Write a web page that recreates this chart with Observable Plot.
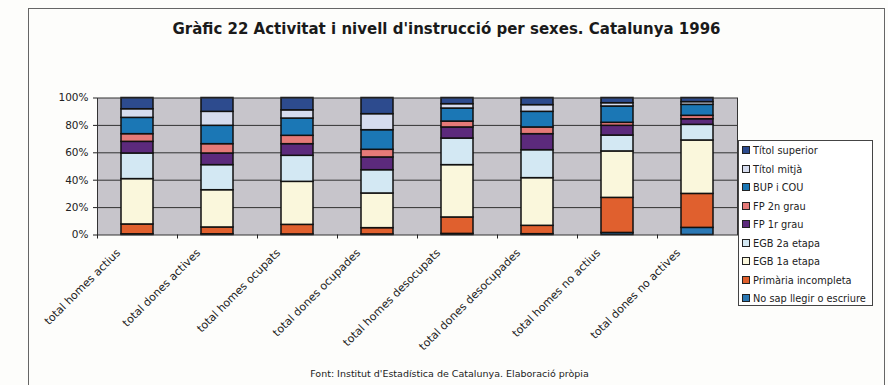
<!DOCTYPE html>
<html><head><meta charset="utf-8">
<script src="https://cdn.jsdelivr.net/npm/d3@7"></script>
<script src="https://cdn.jsdelivr.net/npm/@observablehq/plot@0.6"></script>
<style>
body{margin:0;background:#fff;}
#wrap{position:relative;width:888px;height:385px;background:#fdfdfb;font-family:"DejaVu Sans",sans-serif;overflow:hidden;}
#frame{position:absolute;left:28px;top:8px;width:857px;height:377px;border:1px solid #666;border-bottom:none;box-sizing:border-box;}
#title{position:absolute;left:18px;width:857px;top:20px;text-align:center;font-weight:bold;font-size:15px;color:#1a1a1a;}
#chart{position:absolute;left:28px;top:80px;}
#legend{position:absolute;left:738px;top:140px;width:135px;height:166px;border:1px solid #444;box-sizing:border-box;background:#fff;}
.item{position:absolute;left:3px;font-size:9.8px;color:#222;white-space:nowrap;line-height:12px;height:12px;}
.sw{display:inline-block;width:6px;height:6px;border:1px solid #222;margin-right:3px;vertical-align:0px;}
#caption{position:absolute;left:21px;width:857px;top:368px;text-align:center;font-size:9.5px;color:#222;}
</style>
</head><body>
<div id="wrap">
  <div id="frame"></div>
  <div id="title">Gràfic 22 Activitat i nivell d'instrucció per sexes. Catalunya 1996</div>
  <div id="chart"></div>
  <div id="legend"></div>
  <div id="caption">Font: Institut d'Estadística de Catalunya. Elaboració pròpia</div>
</div>
<script>
const categories = ["total homes actius","total dones actives","total homes ocupats","total dones ocupades","total homes desocupats","total dones desocupades","total homes no actius","total dones no actives"];
// series listed bottom to top of the stack
const series = ["No sap llegir o escriure","Primària incompleta","EGB 1a etapa","EGB 2a etapa","FP 1r grau","FP 2n grau","BUP i COU","Títol mitjà","Títol superior"];
const colors = ["#2b78b4","#e0602e","#faf7dc","#d3e8f3","#5c2a7c","#e57a78","#1b77b5","#d6dcee","#2d4b8e"];
const noSap      = [0.5, 0.5, 0.4, 0.4, 0.8, 0.6, 1.5, 5.2];
const primaria   = [7.2, 5.0, 7.0, 4.6, 12.0, 6.1, 25.6, 24.8];
const egb1       = [33.1, 27.2, 31.4, 25.3, 38.2, 34.8, 33.9, 39.0];
const egb2       = [18.7, 18.3, 19.0, 17.0, 19.4, 20.4, 11.6, 11.4];
const fp1        = [8.5, 8.5, 8.5, 9.3, 8.1, 11.7, 7.1, 4.1];
const fp2        = [5.6, 6.8, 6.1, 5.6, 4.3, 4.9, 2.2, 2.5];
const bup        = [11.9, 13.4, 12.6, 14.3, 9.5, 11.4, 11.9, 8.0];
const titolMitja = [6.3, 10.2, 6.0, 11.7, 3.2, 4.9, 2.4, 2.0];
const titolSup   = [8.2, 10.1, 9.0, 11.8, 4.5, 5.2, 3.8, 3.0];
const yTicks = [0, 20, 40, 60, 80, 100];

const valueArrays = [noSap, primaria, egb1, egb2, fp1, fp2, bup, titolMitja, titolSup];
const rows = [];
series.forEach((s, si) => categories.forEach((c, ci) => rows.push({cat: c, serie: s, value: valueArrays[si][ci]})));

const W = 712, H = 280, mL = 69, mR = 3, mT = 17.5, mB = 125.5;
const band = (W - mL - mR) / categories.length;

const chart = Plot.plot({
  width: W, height: H,
  marginLeft: mL, marginRight: mR, marginTop: mT, marginBottom: mB,
  style: {fontFamily: '"DejaVu Sans", sans-serif', fontSize: "10.5px", color: "#222", background: "transparent"},
  x: {domain: categories, paddingInner: 0.6, paddingOuter: 0.3, label: null},
  y: {domain: [0, 100], ticks: yTicks, label: null},
  color: {domain: series, range: colors},
  marks: [
    Plot.frame({fill: "#c7c5cb", stroke: "none"}),
    Plot.ruleY(yTicks.slice(1, -1), {stroke: "#333", strokeWidth: 1}),
    Plot.barY(rows, Plot.stackY({order: series}, {x: "cat", y: "value", fill: "serie", stroke: "#111", strokeWidth: 1.5})),
    Plot.frame({stroke: "#333", strokeWidth: 1}),
    Plot.axisY({ticks: yTicks, tickSize: 4, tickFormat: d => d + "%", fontSize: 10.5}),
    Plot.axisX({tickSize: 4, tickFormat: () => "", dx: -band / 2}),
    Plot.axisX({tickSize: 0, tickRotate: -45, tickPadding: 16, dx: -19, fontSize: 11})
  ]
});
document.getElementById("chart").appendChild(chart);

const legend = document.getElementById("legend");
series.slice().reverse().forEach((s, i) => {
  const col = colors[series.indexOf(s)];
  const d = document.createElement("div");
  d.className = "item";
  d.style.top = (4 + i * 18.5) + "px";
  d.innerHTML = `<span class="sw" style="background:${col}"></span>${s}`;
  legend.appendChild(d);
});
</script>
</body></html>
